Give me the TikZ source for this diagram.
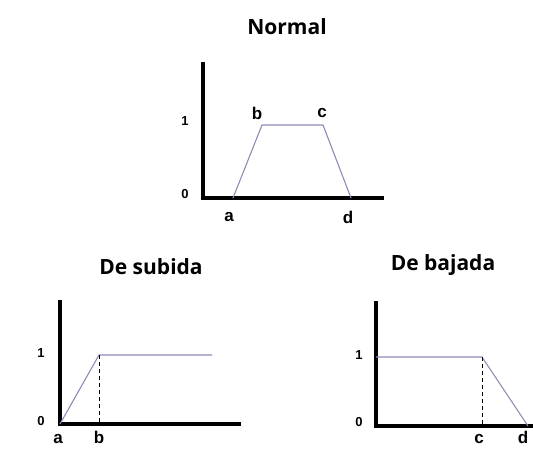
\documentclass[tikz,border=0pt]{standalone}
\usepackage{fontspec}
\setmainfont{Liberation Sans}[BoldFont={Liberation Sans Bold}]
\newfontfamily\titlefont{Open Sans}[BoldFont={Open Sans Bold}]
\begin{document}
\begin{tikzpicture}[x=1pt,y=-1pt,
  axis/.style={line width=3.6pt,line cap=butt},
  curve/.style={line width=1.1pt,color={rgb,255:red,140;green,140;blue,185}},
  guide/.style={line width=0.8pt,dash pattern=on 4pt off 3pt},
  ttl/.style={font=\titlefont\bfseries\fontsize{21}{24}\selectfont,inner sep=0pt},
  lbl/.style={font=\bfseries\fontsize{17}{19}\selectfont,inner sep=0pt},
  num/.style={font=\bfseries\fontsize{13}{15}\selectfont,inner sep=0pt}]
\useasboundingbox (0,0) rectangle (533,448);
% ---------- Normal ----------
\node[ttl] (t1) at (287,27) {Normal};
\coordinate (o1) at (203,198);
\coordinate (y1) at (203,62);
\coordinate (x1) at (384,198);
\draw[axis] (y1) -- (o1) -- (x1);
\coordinate (pa) at (233,198);
\coordinate (pb) at (262,125);
\coordinate (pc) at (323,125);
\coordinate (pd) at (351,198);
\draw[curve] (pa) -- (pb) -- (pc) -- (pd);
\node[num] (n1a) at (185,121) {1};
\node[num] (n0a) at (185,194) {0};
\node[lbl] (lb) at (257,113) {b};
\node[lbl] (lc) at (322,113) {c};
\node[lbl] (la) at (229,217) {a};
\node[lbl] (ld) at (348,217) {d};
% ---------- De subida ----------
\node[ttl] (t2) at (151,267) {De subida};
\coordinate (o2) at (60,424);
\coordinate (y2) at (60,300);
\coordinate (x2) at (241,424);
\draw[axis] (y2) -- (o2) -- (x2);
\coordinate (sb) at (99,355);
\coordinate (se) at (212,355);
\coordinate (sbb) at (99,422);
\draw[curve] (o2) -- (sb) -- (se);
\draw[guide] (sb) -- (sbb);
\node[num] (n1b) at (41,353) {1};
\node[num] (n0b) at (41,421) {0};
\node[lbl,anchor=base] (la2) at (58,443) {a};
\node[lbl,anchor=base] (lb2) at (99,443) {b};
% ---------- De bajada ----------
\node[ttl] (t3) at (443,265) {De bajada};
\coordinate (o3) at (376,426);
\coordinate (y3) at (376,301);
\coordinate (x3) at (533,426);
\draw[axis] (y3) -- (o3) -- (x3);
\coordinate (bs) at (376,357);
\coordinate (bc) at (482,357);
\coordinate (bd) at (528,426);
\coordinate (bcc) at (482,424);
\draw[curve] (bs) -- (bc) -- (bd);
\draw[guide] (bc) -- (bcc);
\node[num] (n1c) at (359,355) {1};
\node[num] (n0c) at (359,422) {0};
\node[lbl,anchor=base] (lc3) at (479,443) {c};
\node[lbl,anchor=base] (ld3) at (523,443) {d};
\end{tikzpicture}
\end{document}
